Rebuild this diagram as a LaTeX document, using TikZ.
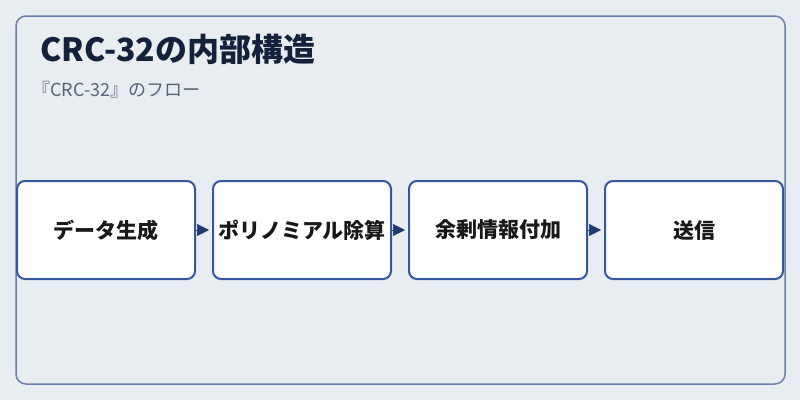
\documentclass[tikz,border=0pt]{standalone}
\usepackage{fontspec}
\setmainfont{Noto Sans CJK JP}
\usepackage{xcolor}
\usetikzlibrary{arrows.meta,positioning}
\definecolor{pagebg}{HTML}{E8EDF2}
\definecolor{framecol}{HTML}{6B80A8}
\definecolor{boxcol}{HTML}{3557A0}
\definecolor{arrowcol}{HTML}{1F3A6E}
\definecolor{titlecol}{HTML}{14213A}
\definecolor{subcol}{HTML}{5A6478}

\begin{document}
\begin{tikzpicture}[x=1pt,y=-1pt]
        \tikzset{box style/.style={draw=boxcol, line width=2pt, rectangle, rounded corners=8pt, fill=white, text=black!90, minimum width=178pt, minimum height=98pt, inner sep=0pt, font=\fontsize{21}{24}\selectfont\bfseries}}
        \tikzset{arrow style/.style={line width=0.6pt, color=arrowcol, -{Triangle[length=12pt,width=12pt]}, shorten >=3pt}}

        \useasboundingbox[fill=pagebg] (0,0) rectangle (800,400);
        \draw[framecol, line width=1.5pt, rounded corners=10pt, fill=pagebg] (16,16) rectangle (785,384);

        \node[anchor=base west, text=titlecol, font=\fontsize{32}{36}\selectfont\bfseries, inner sep=0pt] (title) at (40,61) {CRC-32の内部構造};
        \node[anchor=base west, text=subcol, font=\fontsize{18}{22}\selectfont, inner sep=0pt] (subtitle) at (32,96) {『CRC-32』のフロー};

        \node[box style, anchor=west] (data) at (16,230) {データ生成};
        \node[box style, right=16pt of data] (poly) {ポリノミアル除算};
        \node[box style, right=16pt of poly] (redund) {余剰情報付加};
        \node[box style, right=16pt of redund] (send) {送信};

        \draw[arrow style] (data.east) -- (poly.west);
        \draw[arrow style] (poly.east) -- (redund.west);
        \draw[arrow style] (redund.east) -- (send.west);
    \end{tikzpicture}
\end{document}
